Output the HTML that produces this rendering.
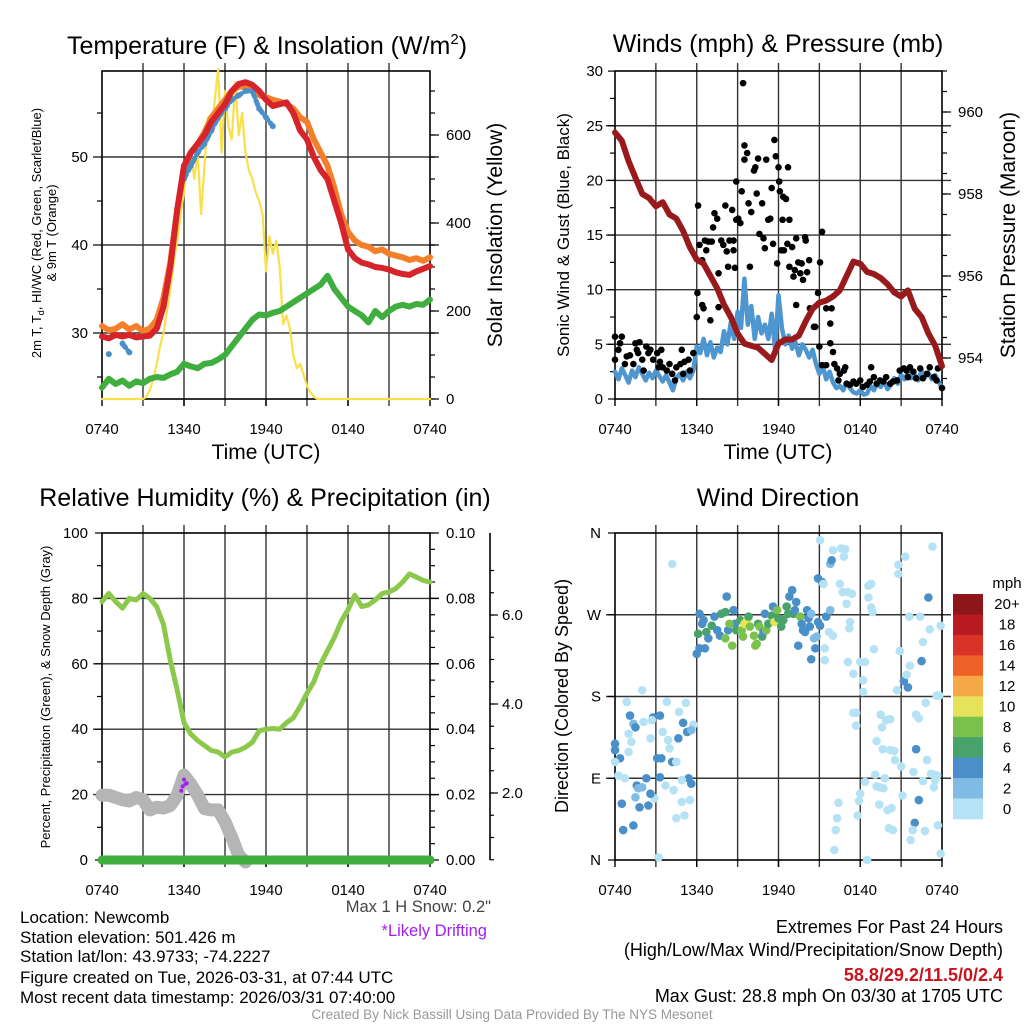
<!DOCTYPE html>
<html><head><meta charset="utf-8">
<style>
html,body{margin:0;padding:0;background:#fff;}
svg{display:block;font-family:"Liberation Sans",Arial,sans-serif;}
</style></head>
<body>
<svg id="fig" width="1024" height="1024" viewBox="0 0 1024 1024" xmlns="http://www.w3.org/2000/svg">
<rect width="1024" height="1024" fill="#fff"/>
<g id="layer"></g>
<!-- titles -->
<text x="267" y="54" font-size="25" text-anchor="middle">Temperature (F) &amp; Insolation (W/m<tspan font-size="15" dy="-10">2</tspan><tspan dy="10">)</tspan></text>
<text x="778" y="52" font-size="25" text-anchor="middle">Winds (mph) &amp; Pressure (mb)</text>
<text x="265" y="506" font-size="25" text-anchor="middle">Relative Humidity (%) &amp; Precipitation (in)</text>
<text x="778" y="506" font-size="25" text-anchor="middle">Wind Direction</text>
<!-- axis titles -->
<text x="266" y="459" font-size="21" text-anchor="middle">Time (UTC)</text>
<text x="778" y="459" font-size="21" text-anchor="middle">Time (UTC)</text>
<text transform="translate(41,233) rotate(-90)" font-size="13" text-anchor="middle">2m T, T<tspan font-size="9" dy="3">d</tspan><tspan dy="-3">, HI/WC (Red, Green, Scarlet/Blue)</tspan></text>
<text transform="translate(56,233) rotate(-90)" font-size="13" text-anchor="middle">&amp; 9m T (Orange)</text>
<text transform="translate(502,235) rotate(-90)" font-size="21" text-anchor="middle">Solar Insolation (Yellow)</text>
<text transform="translate(569,235) rotate(-90)" font-size="17" text-anchor="middle">Sonic Wind &amp; Gust (Blue, Black)</text>
<text transform="translate(1015,235) rotate(-90)" font-size="21" text-anchor="middle">Station Pressure (Maroon)</text>
<text transform="translate(50,697) rotate(-90)" font-size="13" text-anchor="middle">Percent, Precipitation (Green), &amp; Snow Depth (Gray)</text>
<text transform="translate(568,696) rotate(-90)" font-size="18" text-anchor="middle">Direction (Colored By Speed)</text>
<!-- bottom text -->
<g font-size="17">
<text x="20" y="923">Location: Newcomb</text>
<text x="20" y="943">Station elevation: 501.426 m</text>
<text x="20" y="962">Station lat/lon: 43.9733; -74.2227</text>
<text x="20" y="983">Figure created on Tue, 2026-03-31, at 07:44 UTC</text>
<text x="20" y="1003">Most recent data timestamp: 2026/03/31 07:40:00</text>
</g>
<text x="491" y="912" font-size="16.5" fill="#444" text-anchor="end">Max 1 H Snow: 0.2"</text>
<text x="487" y="936" font-size="16.5" fill="#a020f0" text-anchor="end">*Likely Drifting</text>
<g font-size="18" text-anchor="end">
<text x="1003" y="933">Extremes For Past 24 Hours</text>
<text x="1003" y="956">(High/Low/Max Wind/Precipitation/Snow Depth)</text>
<text x="1003" y="981" fill="#c8141e" font-weight="bold">58.8/29.2/11.5/0/2.4</text>
<text x="1003" y="1002">Max Gust: 28.8 mph On 03/30 at 1705 UTC</text>
</g>
<text x="512" y="1019" font-size="13.5" fill="#999" text-anchor="middle">Created By Nick Bassill Using Data Provided By The NYS Mesonet</text>
</svg>
<script>
// ---------- DATA ----------
const timeLabels = ["0740","1340","1940","0140","0740"];
// Temperature panel, 0.5 h steps
const temp2m = [29.6,29.4,29.8,29.6,29.8,29.5,29.6,29.7,30.5,33,37.5,44,49,50.5,51.5,52.5,54,55,56,57.5,58.3,58.5,58.2,57.5,56.5,55.8,56,56.2,55,53,52,50,48.5,47.5,45,42.5,39.5,38.5,38,37.8,37.5,37.4,37.2,36.9,36.7,36.6,37,37.3,37.6];
const temp9m = [30.8,30.3,30.5,31,30.4,30.8,30.2,30.5,31.5,34,38,44,48.5,50.5,51.5,52.8,54.5,55.5,56.5,57.5,58,58,57.8,57,56.8,56.5,56.3,56,55.5,54.5,54,52,50.5,49,46.5,43.5,41.5,40.5,40,39.8,39.3,39.5,39,38.8,38.6,38.3,38.5,38.2,38.6];
const dewpoint = [23.8,24.8,24.2,24.6,24.0,24.5,24.3,24.8,25.0,24.9,25.3,25.6,26.5,26.2,26.0,26.5,26.6,27,27.5,28.5,29.5,30.5,31.5,32.1,32.0,32.3,32.5,33,33.5,34,34.5,35,35.5,36.5,35,34,33,32.5,32,31.2,32.5,31.8,32.5,33,33.2,33,33.3,33.2,33.8];
const windChill = [null,27.6,null,28.8,27.8,null,null,null,null,null,null,null,47.5,49,50.5,51.5,53,54.5,55.5,56.5,57,57.5,57.5,55.5,54.5,53.5,null,null,null,null,null,null,null,null,null,null,null,null,null,null,null,null,null,null,null,null,null,null,null];
// Insolation, 0.25 h steps
const insolation = [0,0,0,0,0,0,0,0,0,0,0,0,
 0,5,20,45,80,120,150,200,250,310,360,420,470,540,560,500,560,420,530,640,600,680,750,560,700,620,590,720,600,650,560,520,500,470,450,420,290,370,330,360,300,170,190,160,100,70,80,55,30,15,5,0,
 0,0,0,0,0,0,0,0,0,0,0,0,0,0,0,0,0,0,0,0,0,0,0,0,0,0,0,0,0,0,0,0,0];
// Wind panel
const windSpeed = [2.5,1.8,2.8,2.2,1.5,2.6,2.0,2.9,2.3,1.7,2.4,1.9,2.6,2.1,1.6,2.2,1.5,0.8,1.9,2.3,1.7,2.5,1.9,2.6,
 4.8,4.2,5.5,4.0,5.2,3.8,4.7,4.3,6.2,5.0,7.0,5.5,8.0,6.5,11.0,6.8,
 8.5,5.5,7.5,6.0,6.8,5.5,7.8,4.5,9.5,6.5,5.0,5.8,4.6,5.2,4.0,5.0,
 4.5,3.8,4.5,3.2,2.3,3.0,1.8,2.5,1.5,1.0,1.2,0.8,1.5,1.0,0.6,0.5,
 0.8,0.4,0.5,1.2,0.8,1.4,1.1,1.6,0.9,1.3,1.9,1.4,2.2,1.8,2.4,1.9,2.2,1.7,2.6,2.0,2.4,1.8,2.2,1.6,1.0];
const pressure = [959.5,959.3,958.8,958.4,958.0,957.9,957.7,957.8,957.5,957.4,957.1,956.7,956.4,956.3,956.0,955.7,955.3,955.0,954.6,954.35,954.3,954.25,954.1,953.95,954.35,954.45,954.45,954.55,954.9,955.2,955.35,955.4,955.5,955.65,956.0,956.35,956.3,956.1,956.05,955.95,955.8,955.6,955.5,955.65,955.2,955.0,954.6,954.3,953.8];
const gustHours = [0,0,0.25,0.5,0.37,0.73,0.86,1.1,1.35,1.5,1.6,1.8,1.7,2,2.1,2.3,2.45,2.6,2.8,3.1,3.2,3.4,3.3,3.5,3.8,4.0,4.2,4.4,4.5,4.8,4.9,5,5.1,5.4,5.5,5.75,
 6,6.05,6.1,6.2,6.4,6.4,6.5,6.6,6.7,6.85,7,7.1,7.2,7.3,7.5,7.6,7.6,7.8,7.95,8.1,8.2,8.3,8.4,8.6,8.7,8.7,8.8,8.9,8.9,9.05,9.2,9.3,9.4,9.5,9.5,9.7,9.8,9.9,10,10.2,10.3,10.4,10.5,10.6,10.8,10.9,11,11.1,11.25,11.4,11.5,11.6,11.7,11.8,11.9,12,12.05,12.1,12.2,12.35,12.3,12.4,12.55,12.65,12.7,12.8,13,12.8,13.1,13.2,13.3,13.3,13.45,13.6,13.7,13.8,13.95,14,14.1,14.25,14.3,14.6,14.7,14.9,15.05,15.2,15,15.2,15.5,15.5,15.8,15.8,15.9,16,16.1,16.3,16.4,16.5,16.8,16.9,17,17.25,17.5,17.7,18,18.2,18.5,18.7,18.8,19,19.2,19.45,19.7,19.9,20.2,20.4,20.7,20.9,21.2,21.4,21.5,21.65,21.9,22.1,22.4,22.6,22.9,23.1,23.4,23.6,23.7,24];
const gustSpeeds = [5.7,3.6,4.5,5.7,5.1,3.2,3.9,4.0,3.2,5.1,4.5,5.2,4.2,3.6,2.6,4.8,4.2,4.5,3.6,4.2,2.9,4.5,3.4,2.9,2.6,3.2,2.3,1.7,2.9,3.2,4.5,2.3,3.4,3.6,2.6,4.2,
 7.5,9.7,17.7,14.1,12.7,8.6,8.3,14.5,13.6,14.4,7.2,14.4,15.7,17,16.5,11.5,8.4,14.5,14.1,17.7,13.5,12.1,14.5,17.3,13.6,14.5,12,16.4,19.9,16.5,16.1,19,28.9,23.2,21.9,22.5,17.9,12.1,17.1,20.9,21.2,18.8,22,15.1,17.9,14.7,13.8,21.9,16.4,16.5,19.3,14.2,23.7,22.2,12.4,21.2,19.9,19,13.6,18.5,16.4,13.6,18.3,14.2,21.2,16.4,13.9,12.1,11.2,11.8,14.7,8.6,12.5,11.5,12.4,10.9,14.8,14.5,11.6,12.7,8.3,6.6,6.6,9.7,12.5,15.3,4.8,3.1,3.1,8.3,5.1,6.9,8.3,4.3,3.2,2.8,1.7,2.3,2.6,2.9,1.4,1.3,1.6,1.4,1.7,1.1,1.3,1.6,2.9,2,1.4,1.7,1.6,2,1.4,1.6,1.7,2.6,2.8,2.6,2,2.9,2.5,1.9,2.8,1.9,2.3,2.9,2,1.7,2.8,1.0];
// Humidity panel
const relHumidity = [79,81.5,79,77,80,79.5,81.5,80,77.5,72,61,52,42,38.5,36.5,35,33.5,33,31.5,33,33.5,34.5,36,39.5,40,40.2,40,42,43.5,47,51,54.5,60,64,68,73,76.5,81,77.5,78,79.5,81.5,82,83,85,87.5,86.5,85.5,85];
const precip = [0,0,0,0,0,0,0,0,0,0,0,0,0,0,0,0,0,0,0,0,0,0,0,0,0,0,0,0,0,0,0,0,0,0,0,0,0,0,0,0,0,0,0,0,0,0,0,0,0];
const snowDepth = [1.95,1.95,1.9,1.85,1.82,1.9,1.85,1.62,1.68,1.66,1.72,1.95,2.4,2.2,1.95,1.65,1.62,1.62,1.35,1.0,0.6,0.45];
const driftHours = [5.8,5.9,6.0,6.1,6.2];
const driftDepth = [2.05,2.15,2.3,2.2,2.22];
// Wind direction panel
const dirHours = [0,0,0.37,0.25,0.73,0.86,1.1,1.35,1.5,1,1.2,1,1.6,1.7,1.5,2,1.8,2.3,2.1,2,2.6,2.8,2.7,3.3,3.1,3.4,3.3,3.5,3.8,3.9,4.0,4.2,4.5,4.65,4.7,5.0,5.2,5.3,5.75,5.6,5.4,5.6,4.9,4.9,5.5,4.3,3.7,2.9,2.6,2.45,0.5,0.6,1.35,4.5,5.1,3.2,4.2,0,
 6.0,6.2,6.6,6.1,6.4,6.2,6.5,6.7,6.85,7.1,7.3,7.5,7.7,7.8,8.1,8.2,8.1,8.3,8.6,8.7,8.8,8.9,8.4,9.2,9.3,9.4,9.5,9.7,9.8,9.9,10.2,10.3,10.4,10.5,10.6,10.8,10.9,11,11.1,11.25,11.5,11.6,11.7,11.9,12,12.2,12.35,12.6,12.7,12.8,13,13.1,13.2,13.3,13.6,13.7,13.8,13.95,14.1,14.2,14.3,14.4,13.45,14.6,14.7,14.8,14.4,14.9,15.05,14.9,15.2,15.3,15.5,15.8,15.7,16,15.4,15.4,15.8,15.9,16,16.6,16.9,16.8,16.5,16.7,17.1,17.4,17,15.05,
 17.1,17.5,18,18.35,18.2,18.2,17.5,17.7,17.7,18.35,18,17.9,17.8,16.4,16.3,16.2,16.1,18.5,18.6,18.8,18.6,18.8,18.9,17.25,17.2,19,19.2,19.5,19.6,19.9,20.2,19.65,20.2,20.5,20.55,21,19.1,19.8,19.2,19.45,19.7,19.4,20,20.3,20.1,20.4,20.7,20.9,21.2,21.4,21.5,21.65,20.8,20.8,21.3,21.6,22.4,23,23.1,22.6,22.5,22.8,22.1,22.3,22.1,22.9,21.9,22.6,23.2,23.45,23.65,23.5,23.4,21.1,22.3,22,21.85,22.75,21.7,23.7,23.9,23.9,23.3,23.6,23.8];
const dirDegrees = [128,121,112,93,90,174,159,150,146,139,130,119,82,79,69,80,58,90,152,187,134,157,154,159,112,112,91,141,174,132,123,108,108,134,163,151,173,141,149,143,90,84,88,64,66,77,82,68,73,60,62,33,38,46,49,3,326,108,
 227,233,233,249,260,271,264,251,244,258,268,253,247,271,273,290,244,253,236,275,260,253,260,264,253,246,260,264,268,257,247,236,238,260,257,246,251,271,253,260,269,279,262,275,266,257,264,279,271,290,297,271,275,284,268,260,253,251,275,266,257,271,236,244,233,246,221,262,258,310,306,304,268,275,251,247,233,220,326,330,341,343,342,334,304,295,295,293,282,352,
 218,205,218,218,198,185,162,162,148,86,73,65,49,63,46,33,11,0,302,304,289,278,273,262,255,232,131,160,146,154,155,122,121,120,110,103,94,90,81,80,79,61,55,57,35,33,187,230,197,204,190,214,315,325,334,268,268,289,254,240,219,173,160,156,122,110,97,87,95,94,93,88,80,71,66,41,33,32,22,38,7,258,345,181,181];
const dirSpeeds = [5,5,5,1,1,1,5,3,5,1,1,1,5,3,3,3,5,5,1,1,1,5,1,5,5,5,5,1,1,1,1,5,1,5,1,5,1,5,1,3,5,5,1,1,1,1,1,1,5,5,5,5,5,1,1,1,1,1,
 5,5,5,7,5,5,5,7,5,7,5,5,5,7,7,5,9,5,9,5,5,7,9,7,9,9,11,11,7,9,9,9,9,7,9,7,5,5,9,7,7,5,11,9,7,7,7,7,7,5,5,7,5,5,9,5,5,5,5,5,5,3,5,3,5,3,5,5,5,5,5,1,5,3,1,1,1,1,3,5,1,1,1,1,1,1,1,1,1,1,
 1,1,1,1,1,1,1,1,1,1,1,1,1,1,1,1,1,1,1,1,1,1,1,1,1,1,1,1,1,1,1,1,1,1,1,1,1,1,1,1,1,1,1,1,1,1,1,1,5,1,5,1,1,1,1,1,1,5,1,1,5,1,1,1,5,1,1,1,1,1,1,1,1,1,5,5,1,1,1,1,1,1,1,1,1,1];
const speedBins = ["0","2","4","6","8","10","12","14","16","18","20+"];
const binColors = ["#b6e2f6","#7fbbe4","#4a8fc7","#47a36b","#7bc24c","#e6e25a","#f5a845","#ef6127","#d93226","#b81b22","#8e1518"];

// ---------- DRAWING ----------
const NS="http://www.w3.org/2000/svg";
const layer=document.getElementById('layer');
function mk(tag,attrs,parent){const e=document.createElementNS(NS,tag);for(const k in attrs)e.setAttribute(k,attrs[k]);(parent||layer).appendChild(e);return e;}
function txt(x,y,s,size,anchor,parent){const t=mk('text',{x:x,y:y,'font-size':size,'text-anchor':anchor},parent);t.textContent=s;return t;}

const P1={x0:102,x1:430,y0:71,y1:399}, P2={x0:615,x1:942,y0:71,y1:399}, P3={x0:102,x1:430,y0:533,y1:860}, P4={x0:615,x1:942,y0:533,y1:860};
function xs(P,h){return P.x0+h/24*(P.x1-P.x0);}
const yT=t=>333-(t-30)*8.8, yW=w=>399-w*0.44;
const yV=v=>399-v*10.93, yP=p=>358-(p-954)*41;
const yRH=r=>860-r*3.27, yPr=p=>860-p*3270, ySn=s=>882-s*44.5;
const yD=d=>860-d*327/360;

function frame(P,name,hGrid){
  const g=mk('g',{});
  
  
  for(let h=3;h<24;h+=3){const x=xs(P,h);mk('line',{x1:x,x2:x,y1:P.y0-8,y2:P.y1+7,stroke:'#333','stroke-width':1.4},g);}
  hGrid.forEach(y=>mk('line',{x1:P.x0-9,x2:P.x1+9,y1:y,y2:y,stroke:'#333','stroke-width':1.4},g));
  mk('rect',{x:P.x0,y:P.y0,width:P.x1-P.x0,height:P.y1-P.y0,fill:'none',stroke:'#000','stroke-width':1.6},g);
  const xl=mk('g',{});
  
  
  timeLabels.forEach((s,i)=>{txt(xs(P,i*6),P.y1+35,s,15,'middle',xl);mk('line',{x1:xs(P,i*6),x2:xs(P,i*6),y1:P.y1,y2:P.y1+7,stroke:'#000','stroke-width':1.4},xl);});
}
function path(pts,attrs,name){
  let d='';let pen=false;
  pts.forEach(p=>{if(p==null||p[1]==null||isNaN(p[1])){pen=false;return;}d+=(pen?'L':'M')+p[0].toFixed(1)+' '+p[1].toFixed(1);pen=true;});
  const e=mk('path',Object.assign({d:d,fill:'none','stroke-linejoin':'round','stroke-linecap':'round'},attrs));
  
  
  return e;
}
function ticksY(x,vals,fy,len,labelFn,anchor,dxLabel,parentName){
  const g=mk('g',{});
  
  
  vals.forEach(v=>{const y=fy(v);mk('line',{x1:x,x2:x+len,y1:y,y2:y,stroke:'#000','stroke-width':1.2},g);
    const l=labelFn(v);if(l!==null)txt(x+dxLabel,y+5,l,15,anchor,g);});
}
function range(a,b,s){const r=[];for(let v=a;v<=b+1e-9;v+=s)r.push(+v.toFixed(4));return r;}

// ---- Panel 1 ----
frame(P1,'temperature-panel',[yT(30),yT(40),yT(50)]);
ticksY(P1.x0,[25,35,45,55],yT,-5,()=>null,'end',0,'temp-minor-ticks');
ticksY(P1.x0,[30,40,50],yT,0,v=>String(v),'end',-14,'temp-y-tick-labels');
ticksY(P1.x1,range(0,700,50),yW,5,()=>null,'start',0,'insolation-minor-ticks');
ticksY(P1.x1,[0,200,400,600],yW,9,v=>String(v),'start',16,'insolation-y-tick-labels');
const h05=i=>i*0.5, h025=i=>i*0.25;
path(insolation.map((v,i)=>[xs(P1,h025(i)),yW(v)]),{stroke:'#f9e04b','stroke-width':2.2},'insolation-line');
path(dewpoint.map((v,i)=>[xs(P1,h05(i)),yT(v)]),{stroke:'#3fae3f','stroke-width':6},'dewpoint-line');
path(temp9m.map((v,i)=>[xs(P1,h05(i)),yT(v)]),{stroke:'#f47f2a','stroke-width':6},'temp-9m-line');
path(windChill.map((v,i)=>[xs(P1,h05(i)),v==null?null:yT(v)]),{stroke:'#4a8fc7','stroke-width':5,'stroke-dasharray':'5 4'},'wind-chill-line');
windChill.forEach((v,i)=>{if(v!=null){const c=mk('circle',{cx:xs(P1,h05(i)),cy:yT(v),r:3,fill:'#4a8fc7'});}});
path(temp2m.map((v,i)=>[xs(P1,h05(i)),yT(v)]),{stroke:'#d7232a','stroke-width':6},'temp-2m-line');

// ---- Panel 2 ----
frame(P2,'wind-panel',[yV(5),yV(10),yV(15),yV(20),yV(25)]);
ticksY(P2.x0,range(2.5,27.5,5),yV,-5,()=>null,'end',0,'wind-minor-ticks');
ticksY(P2.x0,range(0,30,5),yV,-7,v=>String(v),'end',-12,'wind-y-tick-labels');
ticksY(P2.x1,range(953.5,961,0.5),yP,5,()=>null,'start',0,'pressure-minor-ticks');
ticksY(P2.x1,[954,956,958,960],yP,9,v=>String(v),'start',16,'pressure-y-tick-labels');
path(windSpeed.map((v,i)=>[xs(P2,h025(i)),yV(v)]),{stroke:'#4d96d0','stroke-width':4.5},'wind-speed-line');
gustSpeeds.forEach((v,i)=>{const c=mk('circle',{cx:xs(P2,gustHours[i]),cy:yV(v),r:3.3,fill:'#000'});});
path(pressure.map((v,i)=>[xs(P2,h05(i)),yP(v)]),{stroke:'#991a1c','stroke-width':6},'pressure-line');

// ---- Panel 3 ----
frame(P3,'humidity-panel',[yRH(20),yRH(40),yRH(60),yRH(80)]);
ticksY(P3.x0,range(10,90,20),yRH,-5,()=>null,'end',0,'humidity-minor-ticks');
ticksY(P3.x0,range(0,100,20),yRH,-7,v=>String(v),'end',-14,'humidity-y-tick-labels');
ticksY(P3.x1,range(0,0.1,0.005),yPr,5,()=>null,'start',0,'precip-minor-ticks');
ticksY(P3.x1,range(0,0.1,0.02),yPr,9,v=>v.toFixed(2),'start',16,'precip-y-tick-labels');
{const ax=mk('line',{x1:490,x2:490,y1:533,y2:860,stroke:'#000','stroke-width':1.6});}
ticksY(490,range(0.5,7,0.5).filter(s=>ySn(s)>=533&&ySn(s)<=860),ySn,4,()=>null,'start',0,'snow-minor-ticks');
ticksY(490,[2,4,6],ySn,8,v=>v.toFixed(1),'start',12,'snow-y-tick-labels');
path(relHumidity.map((v,i)=>[xs(P3,h05(i)),yRH(v)]),{stroke:'#8cc84b','stroke-width':5},'humidity-line');
path(snowDepth.map((v,i)=>[xs(P3,h05(i)),Math.min(ySn(v),862)]),{stroke:'#b5b5b5','stroke-width':13},'snow-depth-line');
driftDepth.forEach((v,i)=>{const c=mk('circle',{cx:xs(P3,driftHours[i]),cy:ySn(v),r:2,fill:'#a020f0'});});
path(precip.map((v,i)=>[xs(P3,h05(i)),yPr(v)]),{stroke:'#3fae3f','stroke-width':9},'precip-line');

// ---- Panel 4 ----
frame(P4,'direction-panel',[yD(90),yD(180),yD(270)]);
ticksY(P4.x0,[0,90,180,270,360],yD,-7,v=>["N","E","S","W","N"][v/90],'end',-14,'direction-y-tick-labels');
dirDegrees.forEach((d,i)=>{const b=Math.min(10,Math.floor(dirSpeeds[i]/2));const c=mk('circle',{cx:xs(P4,dirHours[i]),cy:yD(d),r:4.3,fill:binColors[b]});});
const cb=mk('g',{});


txt(1007,588,'mph',15,'middle',cb);
const cbTop=594,cbBot=819,n=speedBins.length,bh=(cbBot-cbTop)/n;
speedBins.forEach((s,i)=>{const k=n-1-i;mk('rect',{x:953,y:cbTop+i*bh,width:30,height:bh+0.3,fill:binColors[k]},cb);
  const t=txt(1007,cbTop+i*bh+bh/2+5,speedBins[k],15,'middle',cb);});
</script>
</body></html>
